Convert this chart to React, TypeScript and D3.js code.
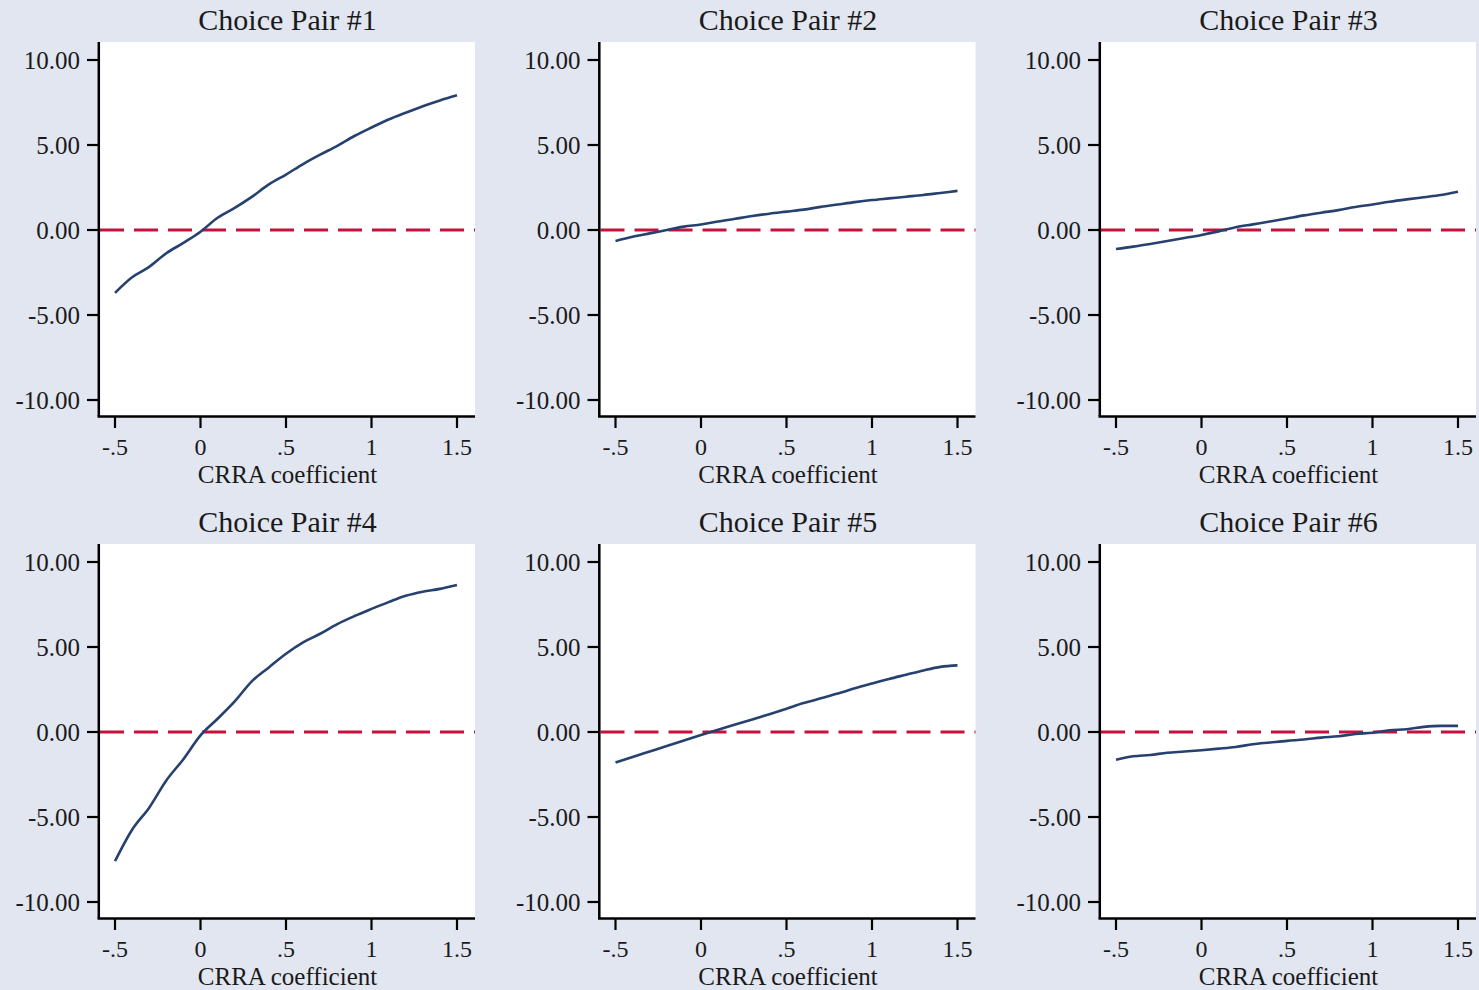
import React from 'react';
import * as d3 from 'd3';

// CRRA coefficient grid
const crra = [-0.5, -0.4, -0.3, -0.2, -0.1, 0, 0.1, 0.2, 0.3, 0.4, 0.5, 0.6, 0.7, 0.8, 0.9, 1.0, 1.1, 1.2, 1.3, 1.4, 1.5];

const pair1 = [-3.7, -2.78, -2.17, -1.37, -0.76, -0.1, 0.72, 1.3, 1.95, 2.68, 3.26, 3.88, 4.43, 4.95, 5.53, 6.03, 6.5, 6.9, 7.28, 7.62, 7.92];
const pair2 = [-0.65, -0.4, -0.2, 0.0, 0.2, 0.32, 0.5, 0.66, 0.82, 0.96, 1.08, 1.2, 1.36, 1.5, 1.64, 1.76, 1.86, 1.96, 2.06, 2.18, 2.3];
const pair3 = [-1.12, -0.98, -0.82, -0.65, -0.47, -0.29, -0.08, 0.16, 0.33, 0.5, 0.68, 0.86, 1.02, 1.17, 1.35, 1.5, 1.66, 1.8, 1.93, 2.06, 2.25];
const pair4 = [-7.6, -5.75, -4.45, -2.85, -1.6, -0.2, 0.78, 1.8, 2.98, 3.8, 4.6, 5.27, 5.78, 6.35, 6.82, 7.24, 7.64, 8.01, 8.25, 8.42, 8.65];
const pair5 = [-1.8, -1.47, -1.15, -0.83, -0.5, -0.18, 0.13, 0.44, 0.74, 1.05, 1.37, 1.7, 1.98, 2.26, 2.57, 2.85, 3.12, 3.37, 3.62, 3.83, 3.92];
const pair6 = [-1.63, -1.43, -1.35, -1.22, -1.15, -1.07, -0.98, -0.88, -0.72, -0.62, -0.52, -0.44, -0.33, -0.25, -0.12, -0.04, 0.1, 0.16, 0.3, 0.36, 0.36];

const titles = ['Choice Pair #1', 'Choice Pair #2', 'Choice Pair #3', 'Choice Pair #4', 'Choice Pair #5', 'Choice Pair #6'];
const series = [pair1, pair2, pair3, pair4, pair5, pair6];

const yTicks = [10, 5, 0, -5, -10];
const yTickLabels = ['10.00', '5.00', '0.00', '-5.00', '-10.00'];
const xTicks = [-0.5, 0, 0.5, 1, 1.5];
const xTickLabels = ['-.5', '0', '.5', '1', '1.5'];

const font = '"Liberation Serif", "Times New Roman", serif';
const bg = '#e1e6f0';
const navy = '#26406f';
const red = '#c8103c';

function Panel(props: { title: string; values: number[]; left: number; top: number }) {
  let margins = { marginLeft: 100, marginTop: 42 };
  let plotW = 375;
  let plotH = 374;

  let xScale = d3.scaleLinear().domain([-0.5, 1.5]).range([15, 357]);
  let yScale = d3.scaleLinear().domain([-10, 10]).range([358, 18]);

  let line = d3.line<number>()
    .x((d, i) => xScale(crra[i]))
    .y(d => yScale(d))
    .curve(d3.curveMonotoneX);

  return (
    <g transform={`translate(${props.left},${props.top})`}>
      <text x={margins.marginLeft + plotW / 2} y={30} textAnchor="middle" fontFamily={font} fontSize={30} fill="#1a1a1a">
        {props.title}
      </text>
      <g transform={`translate(${margins.marginLeft},${margins.marginTop})`}>
        <rect x={0} y={0} width={plotW} height={plotH} fill="#fff" />
        <line x1={0} x2={plotW} y1={yScale(0)} y2={yScale(0)} stroke={red} strokeWidth={3} strokeDasharray="24 10" />
        <path d={line(props.values) || ''} fill="none" stroke={navy} strokeWidth={2.6} strokeLinejoin="round" />
        {/* y axis */}
        <line x1={-1.2} x2={-1.2} y1={0} y2={plotH} stroke="#000" strokeWidth={2.5} />
        {yTicks.map((t, i) => (
          <g key={'y' + i}>
            <line x1={-13} x2={-1} y1={yScale(t)} y2={yScale(t)} stroke="#000" strokeWidth={2.2} />
            <text x={-20} y={yScale(t) + 8.5} textAnchor="end" fontFamily={font} fontSize={25} fill="#1a1a1a">
              {yTickLabels[i]}
            </text>
          </g>
        ))}
        {/* x axis */}
        <line x1={-2.5} x2={plotW} y1={plotH + 0.5} y2={plotH + 0.5} stroke="#000" strokeWidth={2.5} />
        {xTicks.map((t, i) => (
          <g key={'x' + i}>
            <line x1={xScale(t)} x2={xScale(t)} y1={plotH} y2={plotH + 12} stroke="#000" strokeWidth={2.2} />
            <text x={xScale(t)} y={plotH + 39} textAnchor="middle" fontFamily={font} fontSize={24} fill="#1a1a1a">
              {xTickLabels[i]}
            </text>
          </g>
        ))}
        <text x={plotW / 2} y={plotH + 67} textAnchor="middle" fontFamily={font} fontSize={25} fill="#1a1a1a">
          CRRA coefficient
        </text>
      </g>
    </g>
  );
}

export default function App() {
  let width = 1479;
  let height = 990;
  return (
    <svg width={width} height={height} style={{ position: 'absolute', left: 0, top: 0, display: 'block' }}>
      <rect x={0} y={0} width={width} height={height} fill={bg} />
      {series.map((s, i) => (
        <Panel key={i} title={titles[i]} values={s} left={(i % 3) * 500.5} top={Math.floor(i / 3) * 502} />
      ))}
    </svg>
  );
}
